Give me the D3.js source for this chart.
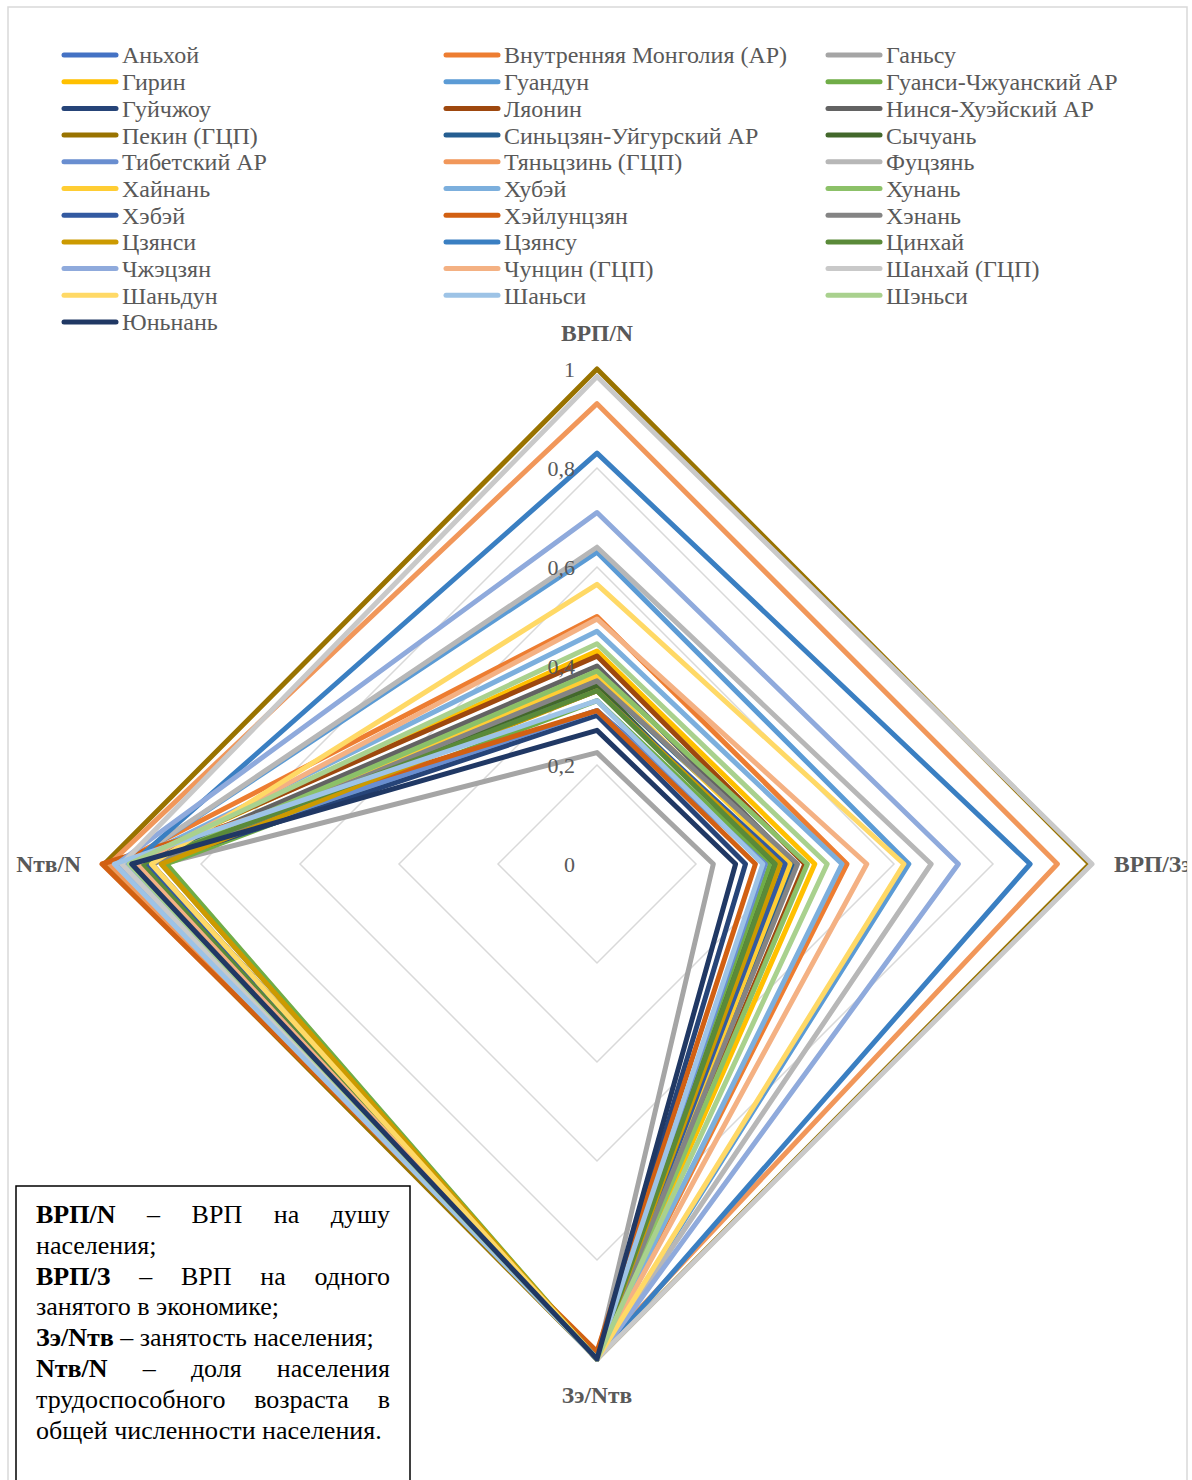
<!DOCTYPE html>
<html>
<head>
<meta charset="utf-8">
<script src="https://cdn.jsdelivr.net/npm/d3@7"></script>
<style>
  body { margin: 0; background: #fff; }
  svg { display: block; }
</style>
</head>
<body>
<script>
// regions, legend order
const regions = ["Аньхой", "Внутренняя Монголия (АР)", "Ганьсу", "Гирин", "Гуандун", "Гуанси-Чжуанский АР",
  "Гуйчжоу", "Ляонин", "Нинся-Хуэйский АР", "Пекин (ГЦП)", "Синьцзян-Уйгурский АР", "Сычуань",
  "Тибетский АР", "Тяньцзинь (ГЦП)", "Фуцзянь", "Хайнань", "Хубэй", "Хунань",
  "Хэбэй", "Хэйлунцзян", "Хэнань", "Цзянси", "Цзянсу", "Цинхай",
  "Чжэцзян", "Чунцин (ГЦП)", "Шанхай (ГЦП)", "Шаньдун", "Шаньси", "Шэньси", "Юньнань"];

const colors = ["#4472C4", "#ED7D31", "#A5A5A5", "#FFC000", "#5B9BD5", "#70AD47",
  "#264478", "#9E480E", "#636363", "#997300", "#255E91", "#43682B",
  "#698ED0", "#F1975A", "#B7B7B7", "#FFCD33", "#7CAFDD", "#8CC168",
  "#335AA1", "#D26012", "#848484", "#CC9A00", "#3A7FC2", "#5A8A39",
  "#8FAADC", "#F4B183", "#C9C9C9", "#FFD966", "#9DC3E6", "#A9D18E", "#203864"];

const axes = ["ВРП/N", "ВРП/Зэ", "Зэ/Nтв", "Nтв/N"];

// values per axis, same order as regions
const vrpN  = [0.31, 0.50, 0.225, 0.43, 0.63, 0.33, 0.30, 0.42, 0.40, 1.00, 0.37, 0.36,
  0.31, 0.93, 0.64, 0.38, 0.47, 0.39, 0.35, 0.31, 0.37, 0.35, 0.83, 0.35,
  0.71, 0.495, 0.985, 0.565, 0.33, 0.445, 0.27];
const vrpZ  = [0.36, 0.505, 0.235, 0.44, 0.63, 0.35, 0.30, 0.42, 0.40, 0.995, 0.40, 0.36,
  0.34, 0.93, 0.675, 0.39, 0.495, 0.425, 0.38, 0.32, 0.405, 0.37, 0.875, 0.36,
  0.73, 0.545, 1.00, 0.62, 0.335, 0.465, 0.28];
const zeNtv = [1.00, 1.00, 1.00, 1.00, 1.00, 1.00, 1.00, 1.00, 1.00, 1.00, 1.00, 1.00,
  1.00, 0.99, 1.00, 1.00, 1.00, 1.00, 1.00, 0.985, 1.00, 1.00, 1.00, 1.00,
  1.00, 1.00, 1.00, 1.00, 1.00, 1.00, 1.00];
const ntvN  = [0.93, 0.97, 0.88, 0.95, 0.95, 0.87, 0.90, 0.96, 0.93, 0.995, 0.92, 0.92,
  0.93, 0.985, 0.95, 0.90, 0.95, 0.91, 0.91, 1.00, 0.90, 0.88, 0.94, 0.92,
  0.97, 0.93, 0.96, 0.90, 0.975, 0.945, 0.94];

const ticks = [0, 0.2, 0.4, 0.6, 0.8, 1];
const tickLabels = ["0", "0,2", "0,4", "0,6", "0,8", "1"];

const W = 1192, H = 1480;
const cx = 597, cy = 864;
const serif = "Liberation Serif, Times New Roman, serif";

const svg = d3.select("body").append("svg")
    .attr("width", W).attr("height", H);

svg.append("clipPath").attr("id", "clip")
  .append("rect").attr("x", 8).attr("y", 7).attr("width", 1179).attr("height", H);

svg.append("rect")
    .attr("x", 8).attr("y", 7).attr("width", 1179).attr("height", H + 10)
    .attr("fill", "none").attr("stroke", "#D9D9D9").attr("stroke-width", 1.5);

const root = svg.append("g").attr("clip-path", "url(#clip)");

const r = d3.scaleLinear().domain([0, 1]).range([0, 495]);
const angle = d3.scalePoint().domain(d3.range(axes.length)).range([0, 2 * Math.PI * 3 / 4]);

const radar = d3.lineRadial()
    .angle((d, i) => angle(i))
    .radius(d => r(d))
    .curve(d3.curveLinearClosed);

const plot = root.append("g").attr("transform", `translate(${cx},${cy})`);

// grid diamonds
plot.selectAll(".grid")
  .data(ticks.slice(1))
  .join("path")
    .attr("d", t => radar(axes.map(() => t)))
    .attr("fill", "none")
    .attr("stroke", "#D9D9D9")
    .attr("stroke-width", 1.5);

// series
const series = regions.map((name, i) => [vrpN[i], vrpZ[i], zeNtv[i], ntvN[i]]);
plot.selectAll(".series")
  .data(series)
  .join("path")
    .attr("d", d => radar(d))
    .attr("fill", "none")
    .attr("stroke", (d, i) => colors[i])
    .attr("stroke-width", 5)
    .attr("stroke-linejoin", "round");

// tick labels
plot.selectAll(".tick")
  .data(ticks)
  .join("text")
    .attr("x", -22)
    .attr("y", t => -r(t))
    .attr("dy", "0.35em")
    .attr("text-anchor", "end")
    .attr("font-family", serif)
    .attr("font-size", 22)
    .attr("fill", "#595959")
    .text((t, i) => tickLabels[i]);

// axis labels
const labelStyle = s => s.attr("font-family", serif)
    .attr("font-size", 23.5).attr("font-weight", "bold").attr("fill", "#595959");
root.append("text").call(labelStyle)
    .attr("x", cx).attr("y", cy - r(1) - 28).attr("text-anchor", "middle").text(axes[0]);
root.append("text").call(labelStyle)
    .attr("x", cx + r(1) + 22).attr("y", cy).attr("dy", "0.35em").text(axes[1]);
root.append("text").call(labelStyle)
    .attr("x", cx).attr("y", cy + r(1) + 44).attr("text-anchor", "middle").text(axes[2]);
root.append("text").call(labelStyle)
    .attr("x", cx - r(1) - 21).attr("y", cy).attr("dy", "0.35em").attr("text-anchor", "end").text(axes[3]);

// legend
const legX = [64, 446, 828];
const legend = root.selectAll(".leg")
  .data(regions)
  .join("g")
    .attr("transform", (d, i) => `translate(${legX[i % 3]},${55 + Math.floor(i / 3) * 26.7})`);
legend.append("line")
    .attr("x1", 0).attr("x2", 52)
    .attr("stroke", (d, i) => colors[i])
    .attr("stroke-width", 5)
    .attr("stroke-linecap", "round");
legend.append("text")
    .attr("x", 58).attr("dy", "0.35em")
    .attr("font-family", serif)
    .attr("font-size", 24)
    .attr("fill", "#595959")
    .text(d => d);

// note box
svg.append("rect")
    .attr("x", 16).attr("y", 1186).attr("width", 394).attr("height", 310)
    .attr("fill", "#fff").attr("stroke", "#000").attr("stroke-width", 1.5);

const noteLines = [
  {words: [["ВРП/N", true], ["–"], ["ВРП"], ["на"], ["душу"]], justify: true},
  {words: [["населения;"]]},
  {words: [["ВРП/З", true], ["–"], ["ВРП"], ["на"], ["одного"]], justify: true},
  {words: [["занятого"], ["в"], ["экономике;"]]},
  {words: [["Зэ/Nтв", true], ["–"], ["занятость"], ["населения;"]]},
  {words: [["Nтв/N", true], ["–"], ["доля"], ["населения"]], justify: true},
  {words: [["трудоспособного"], ["возраста"], ["в"]], justify: true},
  {words: [["общей"], ["численности"], ["населения."]]}
];
const noteX0 = 36, noteX1 = 390;
noteLines.forEach((ln, li) => {
  const y = 1223 + li * 30.8;
  const ws = ln.words.map(([w, b]) => svg.append("text")
      .attr("y", y)
      .attr("font-family", serif)
      .attr("font-size", 26)
      .attr("font-weight", b ? "bold" : "normal")
      .attr("fill", "#000")
      .text(w));
  const widths = ws.map(t => t.node().getComputedTextLength());
  const total = d3.sum(widths);
  const gap = ln.justify ? (noteX1 - noteX0 - total) / (ws.length - 1) : 6.5;
  let x = noteX0;
  ws.forEach((t, i) => { t.attr("x", x); x += widths[i] + gap; });
});
</script>
</body>
</html>
